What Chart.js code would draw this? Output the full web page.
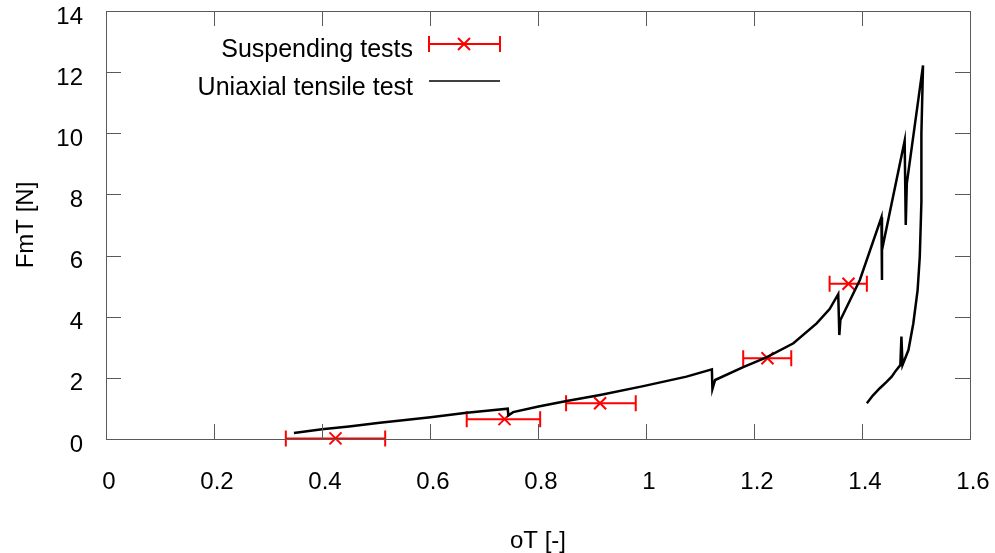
<!DOCTYPE html>
<html>
<head>
<meta charset="utf-8">
<script src="https://cdn.jsdelivr.net/npm/chart.js@4.4.1/dist/chart.umd.min.js"></script>
<style>
  body { margin: 0; background: #fff; }
  canvas { display: block; }
</style>
</head>
<body>
<canvas id="chart" width="995" height="553"></canvas>
<script>
// suspending tests: centre and x error bar ends
let susp_x = [0.425, 0.738, 0.915, 1.225, 1.375];
let susp_y = [0.02, 0.65, 1.17, 2.64, 5.08];
let susp_xlow = [0.333, 0.668, 0.852, 1.180, 1.340];
let susp_xhigh = [0.517, 0.804, 0.981, 1.269, 1.409];

// uniaxial tensile test trace
let tens_x = [0.348, 0.400, 0.450, 0.507, 0.550, 0.601, 0.668, 0.710, 0.744, 0.745, 0.754, 0.801, 0.853, 0.915, 0.995, 1.075, 1.122, 1.123, 1.128, 1.180, 1.223, 1.273, 1.316, 1.340, 1.356, 1.358, 1.360, 1.396, 1.436, 1.437, 1.437, 1.479, 1.481, 1.483, 1.513, 1.510, 1.510, 1.507, 1.503, 1.495, 1.486, 1.475, 1.473, 1.471, 1.462, 1.455, 1.445, 1.433, 1.420, 1.409];
let tens_y = [0.20, 0.32, 0.41, 0.53, 0.61, 0.71, 0.86, 0.93, 0.99, 0.77, 0.88, 1.06, 1.24, 1.44, 1.73, 2.04, 2.28, 1.63, 1.93, 2.35, 2.67, 3.13, 3.78, 4.25, 4.74, 3.40, 3.89, 5.20, 7.25, 5.20, 6.18, 9.76, 7.00, 8.36, 12.22, 10.00, 7.76, 5.96, 4.87, 3.78, 2.91, 2.42, 3.35, 2.42, 2.22, 2.04, 1.86, 1.66, 1.42, 1.17];

let x_ticks = [0, 0.2, 0.4, 0.6, 0.8, 1, 1.2, 1.4, 1.6];
let x_tick_labels = ["0", "0.2", "0.4", "0.6", "0.8", "1", "1.2", "1.4", "1.6"];
let y_ticks = [0, 2, 4, 6, 8, 10, 12, 14];
let y_tick_labels = ["0", "2", "4", "6", "8", "10", "12", "14"];

let series_names = ["Suspending tests", "Uniaxial tensile test"];

const FONT = "'Liberation Sans', Arial, Helvetica, sans-serif";
const RED = "#ff0000";
const FRAME = "#5a5a5a";

// keep the plot box where gnuplot had it
const noPad = s => { s.paddingTop = 0; s.paddingBottom = 0; s.paddingLeft = 0; s.paddingRight = 0; };

// error bars, frame, inward ticks and legend
const gnuplotLook = {
    id: "gnuplotLook",
    beforeDatasetsDraw(chart) {
        let c = chart.ctx, xs = chart.scales.x, ys = chart.scales.y;
        c.save();
        c.strokeStyle = RED;
        c.lineWidth = 2;
        for (let i = 0; i < susp_x.length; i++) {
            let x1 = xs.getPixelForValue(susp_xlow[i]);
            let x2 = xs.getPixelForValue(susp_xhigh[i]);
            let y = ys.getPixelForValue(susp_y[i]);
            c.beginPath();
            c.moveTo(x1, y); c.lineTo(x2, y);
            c.moveTo(x1, y - 8); c.lineTo(x1, y + 8);
            c.moveTo(x2, y - 8); c.lineTo(x2, y + 8);
            c.stroke();
        }
        c.restore();
    },
    afterDraw(chart) {
        let c = chart.ctx, a = chart.chartArea;
        let xs = chart.scales.x, ys = chart.scales.y;
        c.save();
        c.strokeStyle = FRAME;
        c.lineWidth = 1;
        c.beginPath();
        x_ticks.forEach(v => {
            let px = Math.round(xs.getPixelForValue(v)) + 0.5;
            c.moveTo(px, a.bottom); c.lineTo(px, a.bottom - 15);
            c.moveTo(px, a.top); c.lineTo(px, a.top + 15);
        });
        y_ticks.forEach(v => {
            let py = Math.round(ys.getPixelForValue(v)) + 0.5;
            c.moveTo(a.left, py); c.lineTo(a.left + 15, py);
            c.moveTo(a.right, py); c.lineTo(a.right - 15, py);
        });
        c.stroke();
        c.strokeRect(Math.round(a.left) + 0.5, Math.round(a.top) + 0.5,
            Math.round(a.right - a.left), Math.round(a.bottom - a.top));

        // legend
        c.font = "25px " + FONT;
        c.fillStyle = "#000";
        c.textAlign = "right";
        c.textBaseline = "alphabetic";
        c.fillText(series_names[0], 413, 57);
        c.fillText(series_names[1], 413, 95);

        c.strokeStyle = RED;
        c.lineWidth = 2;
        c.beginPath();
        c.moveTo(429, 44); c.lineTo(500, 44);
        c.moveTo(429, 36); c.lineTo(429, 52);
        c.moveTo(500, 36); c.lineTo(500, 52);
        c.moveTo(458, 38); c.lineTo(470, 50);
        c.moveTo(470, 38); c.lineTo(458, 50);
        c.stroke();

        c.strokeStyle = "#000";
        c.lineWidth = 1.5;
        c.beginPath();
        c.moveTo(429, 81); c.lineTo(500, 81);
        c.stroke();
        c.restore();
    }
};

var ctx = document.getElementById("chart").getContext("2d");
var myChart = new Chart(ctx, {
    type: "scatter",
    data: {
        datasets: [{
            label: series_names[1],
            data: tens_x.map((x, i) => ({x: x, y: tens_y[i]})),
            showLine: true,
            borderColor: "#000",
            borderWidth: 2.5,
            pointRadius: 0,
            tension: 0,
            order: 0
        }, {
            label: series_names[0],
            data: susp_x.map((x, i) => ({x: x, y: susp_y[i]})),
            showLine: false,
            pointStyle: "crossRot",
            pointRadius: 8.5,
            borderColor: RED,
            backgroundColor: RED,
            pointBorderWidth: 2,
            clip: false,
            order: 1
        }]
    },
    options: {
        responsive: false,
        animation: false,
        devicePixelRatio: 1,
        layout: { padding: { top: 11, right: 25, left: 0, bottom: 0 } },
        plugins: { legend: { display: false }, tooltip: { enabled: false } },
        scales: {
            x: {
                type: "linear",
                min: 0, max: 1.6,
                afterBuildTicks: s => { s.ticks = x_ticks.map(v => ({value: v})); },
                afterFit: s => { s.height = 114; noPad(s); },
                grid: { display: false },
                border: { display: false },
                ticks: {
                    font: { family: FONT, size: 24 },
                    color: "#000",
                    padding: 21,
                    labelOffset: 3,
                    maxRotation: 0,
                    callback: (v) => x_tick_labels[x_ticks.indexOf(v)]
                },
                title: {
                    display: true,
                    text: "oT [-]",
                    color: "#000",
                    font: { family: FONT, size: 24, lineHeight: 1 },
                    padding: { top: 0, bottom: 0 }
                }
            },
            y: {
                type: "linear",
                min: 0, max: 14,
                afterBuildTicks: s => { s.ticks = y_ticks.map(v => ({value: v})); },
                afterFit: s => { s.width = 106; noPad(s); },
                grid: { display: false },
                border: { display: false },
                ticks: {
                    font: { family: FONT, size: 24 },
                    color: "#000",
                    padding: 15,
                    labelOffset: 6,
                    callback: (v) => y_tick_labels[y_ticks.indexOf(v)]
                },
                title: {
                    display: true,
                    text: "FmT [N]",
                    color: "#000",
                    font: { family: FONT, size: 24 },
                    padding: { top: 12, bottom: 0 }
                }
            }
        }
    },
    plugins: [gnuplotLook]
});
</script>
</body>
</html>
